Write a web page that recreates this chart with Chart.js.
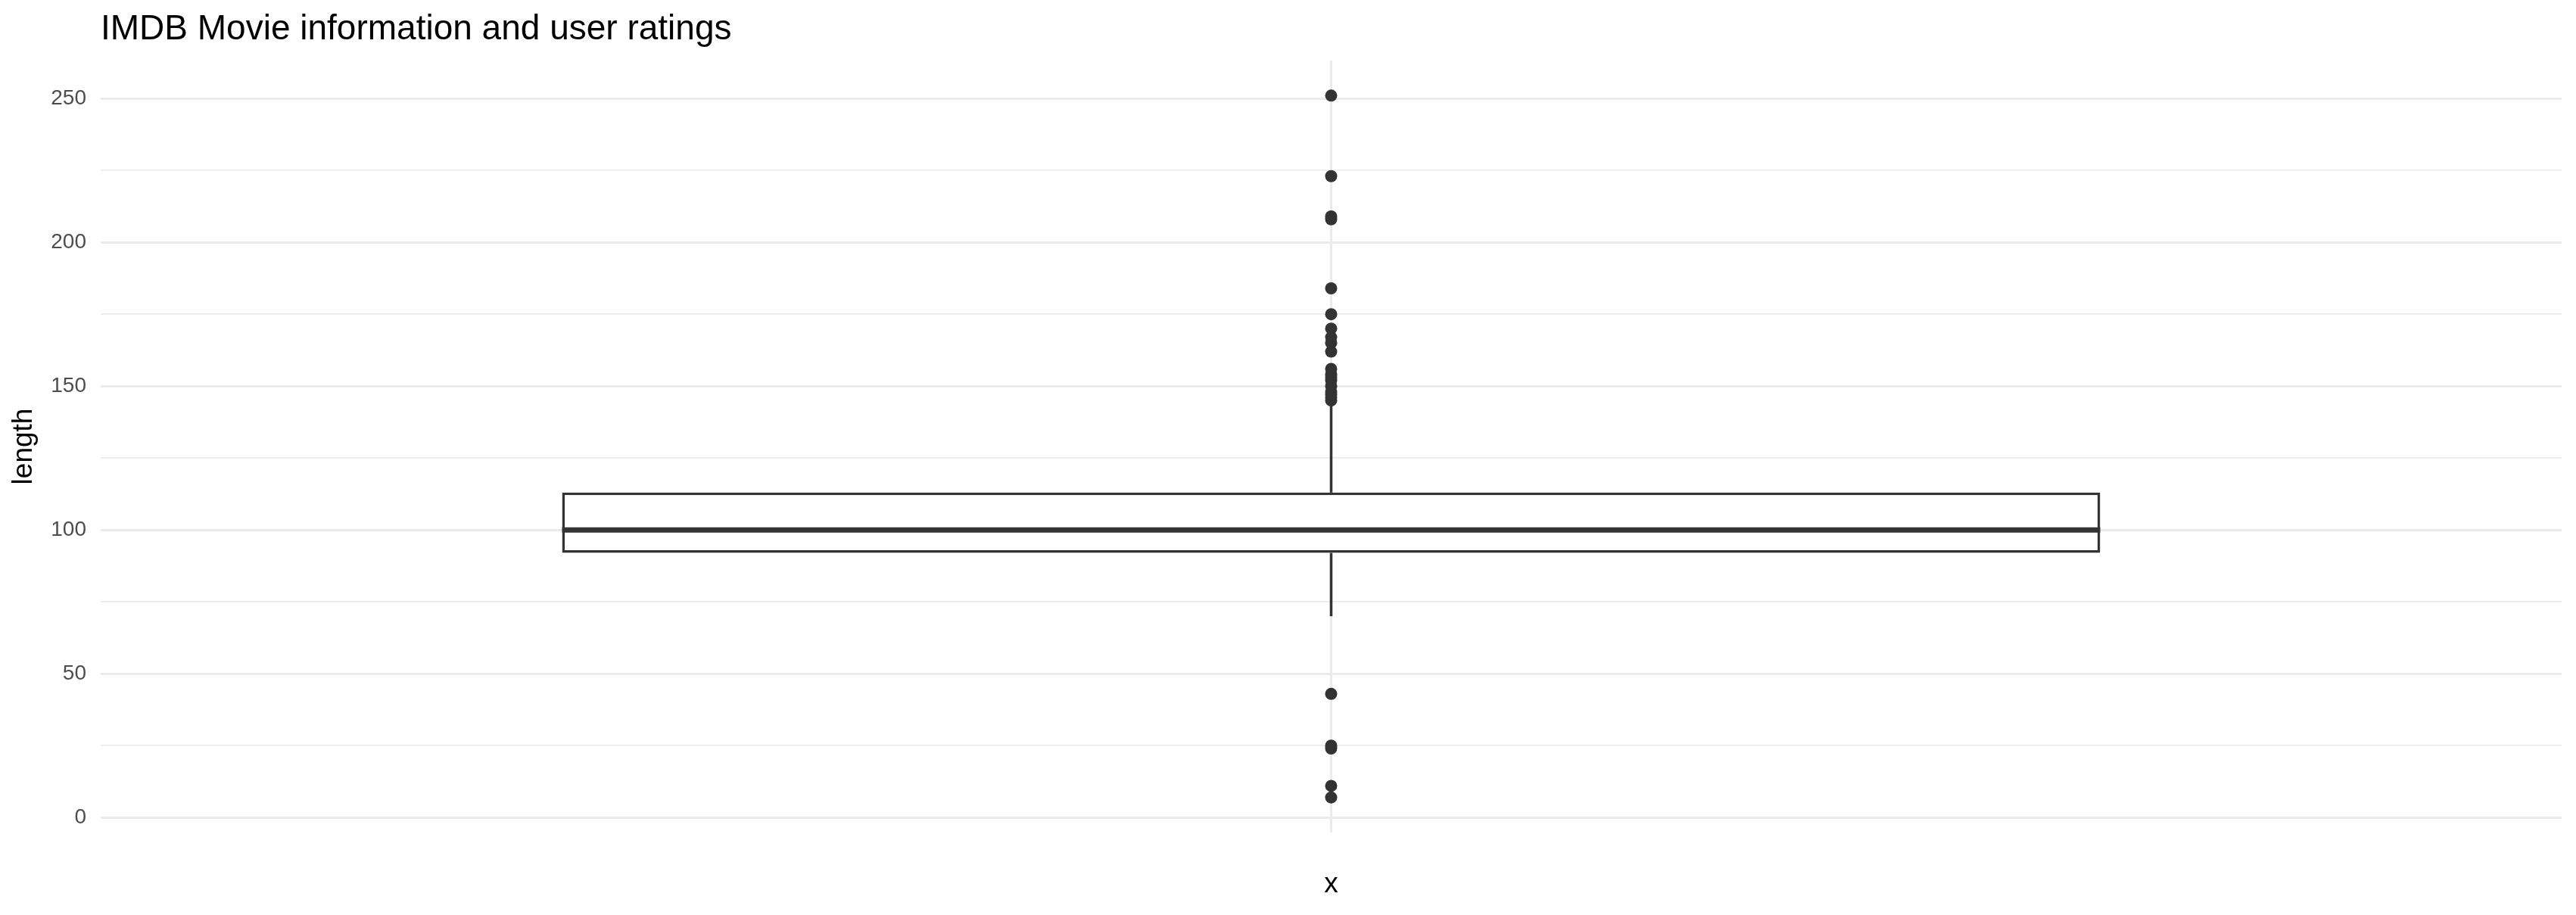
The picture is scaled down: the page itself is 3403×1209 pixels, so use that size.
<!DOCTYPE html>
<html>
<head>
<meta charset="utf-8">
<title>IMDB Movie information and user ratings</title>
<script src="https://cdn.jsdelivr.net/npm/chart.js@4.4.1/dist/chart.umd.min.js"></script>
<style>
  html, body { margin: 0; padding: 0; background: #ffffff; }
  #wrap { width: 3403px; height: 1209px; }
</style>
</head>
<body>
<div id="wrap"><canvas id="c" width="3403" height="1209"></canvas></div>
<script>
// ---- data ----
const CATEGORY = 1;                       // the single discrete x position
const X_TITLE = 'x';
const Y_TITLE = 'length';
const CHART_TITLE = 'IMDB Movie information and user ratings';
const WHISKER_LOW = [70, 92];             // lower whisker: end -> Q1
const WHISKER_HIGH = [113, 144];          // upper whisker: Q3 -> end
const BOX = [92, 113];                    // Q1, Q3
const MEDIAN = [100];
const OUTLIERS_HIGH = [251, 223, 209, 208, 184, 175, 170, 167, 165, 162, 156, 154, 153, 152, 150, 148, 147, 146, 145];
const OUTLIERS_LOW = [43, 25, 24, 11, 7];
const Y_MAJOR_TICKS = [0, 50, 100, 150, 200, 250];
const Y_TICK_LABELS = ['0', '50', '100', '150', '200', '250'];
const Y_MINOR_TICKS = [25, 75, 125, 175, 225];

// ---- layout constants ----
const BOX_WIDTH = 0.75;
const X_MIN = CATEGORY - 0.6, X_MAX = CATEGORY + 0.6;
const allY = [...OUTLIERS_HIGH, ...OUTLIERS_LOW, ...WHISKER_LOW, ...WHISKER_HIGH];
const yLo = Math.min(...allY), yHi = Math.max(...allY);
const yPad = (yHi - yLo) * 0.05;

const INK = '#333333';
const GRID = '#EBEBEB';
const FONT = "'Liberation Sans', Arial, Helvetica, sans-serif";

const titlePlugin = {
  id: 'leftTitle',
  afterDraw(chart) {
    const ctx = chart.ctx;
    ctx.save();
    ctx.font = '46px ' + FONT;
    ctx.fillStyle = '#000000';
    ctx.textAlign = 'left';
    ctx.textBaseline = 'alphabetic';
    ctx.fillText(CHART_TITLE, chart.chartArea.left, 52);
    ctx.restore();
  }
};

const outlierPoints = [...OUTLIERS_HIGH, ...OUTLIERS_LOW].map(v => ({ x: CATEGORY, y: v }));

new Chart(document.getElementById('c'), {
  type: 'scatter',
  data: {
    datasets: [
      {
        type: 'line', label: 'median', order: 0,
        data: [{ x: CATEGORY - BOX_WIDTH / 2, y: MEDIAN[0] }, { x: CATEGORY + BOX_WIDTH / 2, y: MEDIAN[0] }],
        borderColor: INK, borderWidth: 7, pointRadius: 0, fill: false, borderCapStyle: 'butt', showLine: true
      },
      {
        type: 'bar', label: 'box', order: 1,
        data: [{ x: CATEGORY, y: BOX }],
        backgroundColor: '#ffffff', borderColor: INK, borderWidth: 3.5, borderSkipped: false,
        categoryPercentage: 1, barPercentage: BOX_WIDTH / (X_MAX - X_MIN)
      },
      {
        type: 'line', label: 'whisker high', order: 2,
        data: WHISKER_HIGH.map(v => ({ x: CATEGORY, y: v })),
        borderColor: INK, borderWidth: 3.5, pointRadius: 0, fill: false, showLine: true
      },
      {
        type: 'line', label: 'whisker low', order: 2,
        data: WHISKER_LOW.map(v => ({ x: CATEGORY, y: v })),
        borderColor: INK, borderWidth: 3.5, pointRadius: 0, fill: false, showLine: true
      },
      {
        type: 'scatter', label: 'outliers', order: 3,
        data: outlierPoints,
        backgroundColor: INK, borderColor: INK, borderWidth: 0, pointRadius: 8
      }
    ]
  },
  options: {
    responsive: false,
    animation: false,
    devicePixelRatio: 1,
    layout: { padding: { top: 80, right: 19, left: 0, bottom: 0 } },
    plugins: { legend: { display: false }, tooltip: { enabled: false }, title: { display: false } },
    scales: {
      x: {
        type: 'linear', min: X_MIN, max: X_MAX, offset: false,
        afterBuildTicks(scale) { scale.ticks = [{ value: CATEGORY }]; },
        afterFit(scale) { scale.height = 109; },
        ticks: { display: false },
        grid: { color: GRID, lineWidth: 3, drawTicks: false, offset: false },
        border: { display: false },
        title: { display: true, text: X_TITLE, color: '#000000', font: { family: FONT, size: 37 }, padding: { top: 0, bottom: 18 } }
      },
      y: {
        type: 'linear', min: yLo - yPad, max: yHi + yPad,
        afterBuildTicks(scale) {
          scale.ticks = [...Y_MAJOR_TICKS, ...Y_MINOR_TICKS].sort((a, b) => a - b).map(v => ({ value: v }));
        },
        afterFit(scale) { scale.width = 133; },
        ticks: {
          padding: 19, color: '#4D4D4D', font: { family: FONT, size: 28 },
          autoSkip: false,
          callback(value) {
            const i = Y_MAJOR_TICKS.indexOf(value);
            return i >= 0 ? Y_TICK_LABELS[i] : '';
          }
        },
        grid: {
          color: GRID, drawTicks: false, offset: false,
          lineWidth(ctx) { return (ctx.tick && Y_MAJOR_TICKS.includes(ctx.tick.value)) ? 3 : 1.8; }
        },
        border: { display: false },
        title: { display: true, text: Y_TITLE, color: '#000000', font: { family: FONT, size: 37 }, padding: { top: 10, bottom: 0 } }
      }
    }
  },
  plugins: [titlePlugin]
});
</script>
</body>
</html>
